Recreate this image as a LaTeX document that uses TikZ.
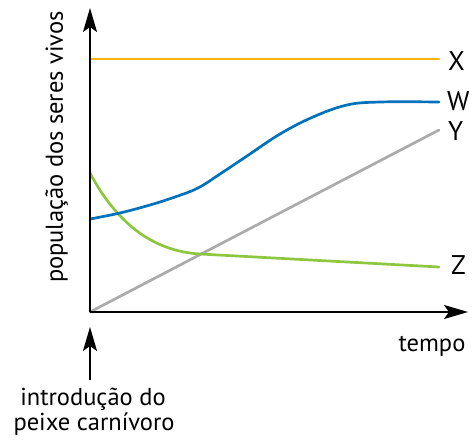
\documentclass[tikz,border=0pt]{standalone}
\usepackage{fontspec}
\setmainfont{PT Sans}
\usetikzlibrary{arrows.meta}
\definecolor{cx}{HTML}{FBB40F}
\definecolor{cw}{HTML}{0072BC}
\definecolor{cy}{HTML}{ABABAB}
\definecolor{cz}{HTML}{8DC63F}
\tikzset{
  axisline/.style={line width=1.6pt, -{Stealth[length=24pt,width=14pt,inset=5pt]}},
  curve/.style={line width=2.7pt, line cap=round},
  lbl/.style={font=\fontsize{24.5}{26}\selectfont, inner sep=0pt},
  letter/.style={font=\fontsize{27}{30}\selectfont, inner sep=0pt, anchor=west},
}
\begin{document}
\begin{tikzpicture}[x=1pt,y=-1pt]
\useasboundingbox (0,0) rectangle (472,441);
\coordinate (o) at (90,312);
\coordinate (ytop) at (90,8);
\coordinate (xend) at (468,312);
\coordinate (arrlow) at (90,380);
\coordinate (arrtip) at (90,327);
% curves
\draw[curve, cx] (90,59) -- (439,59);
\draw[curve, cy] (90,312) -- (439,130);
\draw[curve, cz] (90,173) .. controls (115,220) and (150,251) .. (200,254) -- (439,267);
\draw[curve, cw] plot[smooth, tension=0.6] coordinates {(90,219) (120,213) (150,205) (175,197) (198,188) (220,174) (247,156) (280,134) (313,117) (347,105) (380,102) (439,102)};
% axes
\draw[axisline] (o) -- (ytop);
\draw[axisline] (o) -- (xend);
\draw[axisline] (arrlow) -- (arrtip);
% labels
\node[letter] (lx) at (448,61) {X};
\node[letter] (lw) at (447,101) {W};
\node[letter] (ly) at (448,131) {Y};
\node[letter] (lz) at (451,265) {Z};
\node[lbl, anchor=base] (tempo) at (432,352) {tempo};
\node[lbl, anchor=base, rotate=90] (ylab) at (63,147) {população dos seres vivos};
\node[lbl, anchor=base] (intro1) at (93,406) {introdução do};
\node[lbl, anchor=base] (intro2) at (94,430) {peixe carnívoro};
\end{tikzpicture}
\end{document}
